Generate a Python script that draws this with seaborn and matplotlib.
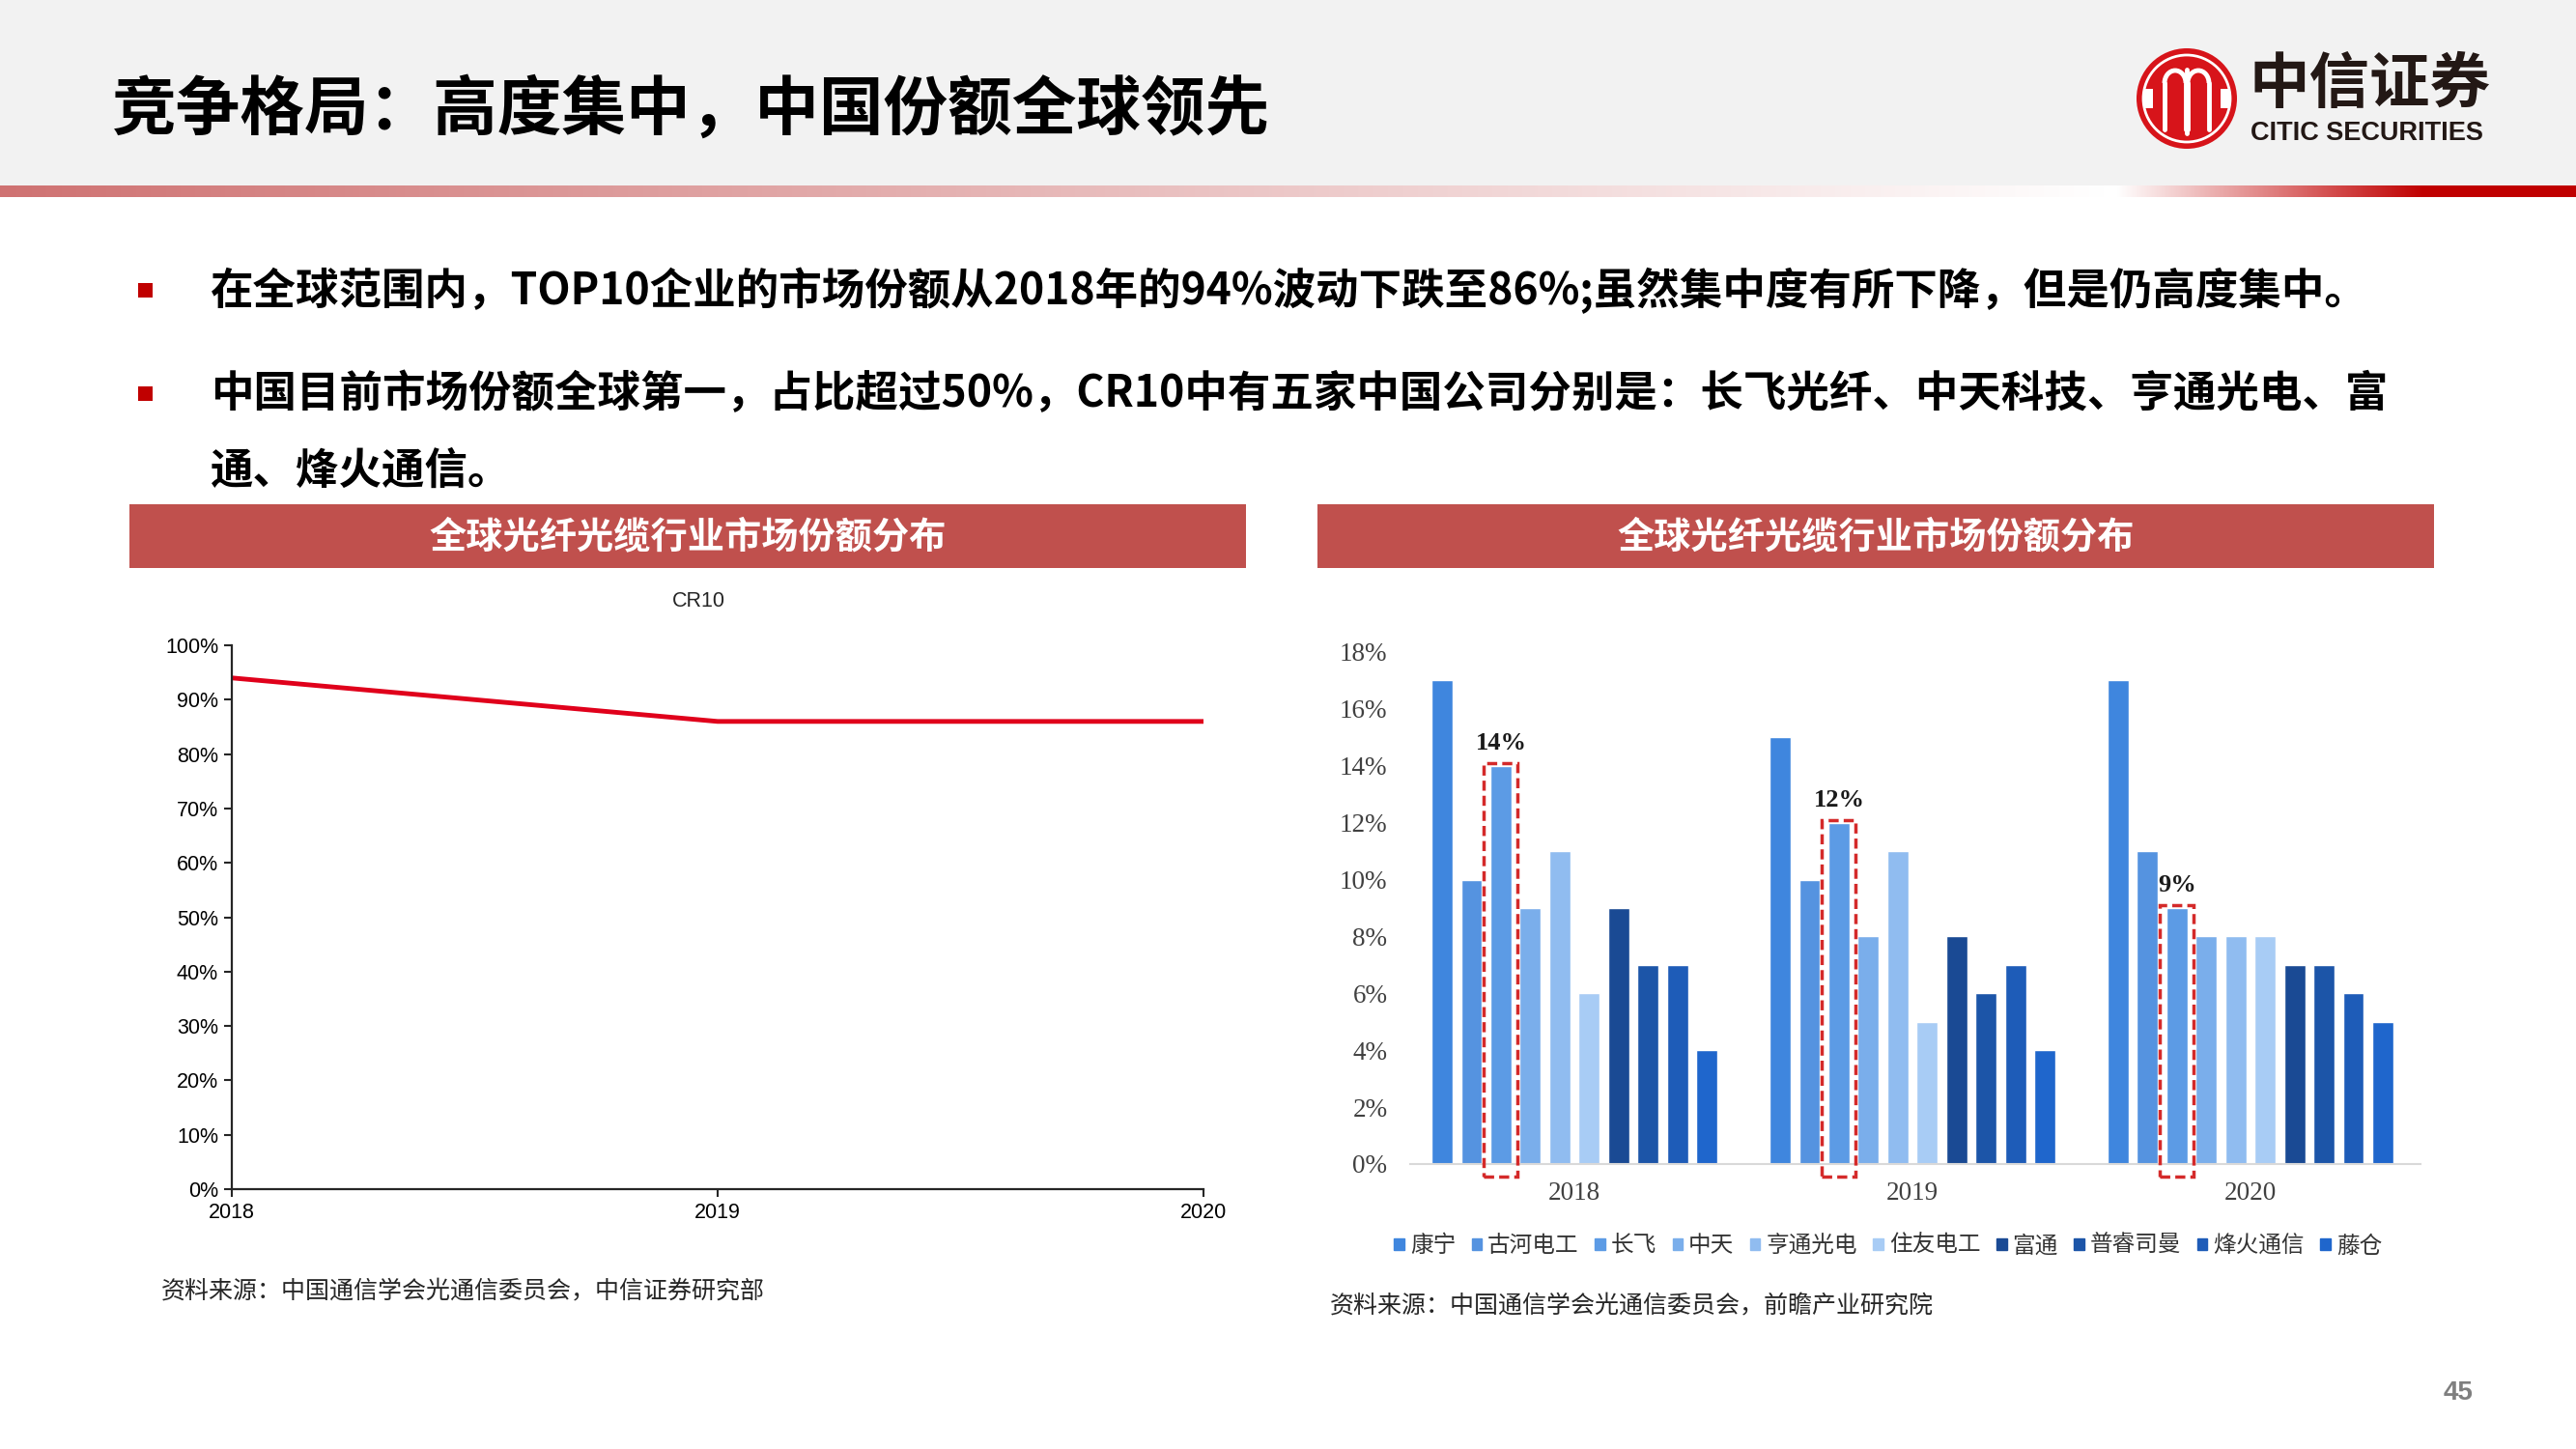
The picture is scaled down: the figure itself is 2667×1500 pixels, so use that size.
import numpy as np
import pandas as pd
import seaborn as sns
import matplotlib.pyplot as plt
from matplotlib.patches import Rectangle, Circle, Arc
from matplotlib.ticker import FuncFormatter

# data
years = [2018, 2019, 2020]
cr10 = [94, 86, 86]

companies = ['康宁', '古河电工', '长飞', '中天', '亨通光电', '住友电工', '富通', '普睿司曼', '烽火通信', '藤仓']
share_2018 = [17, 10, 14, 9, 11, 6, 9, 7, 7, 4]
share_2019 = [15, 10, 12, 8, 11, 5, 8, 6, 7, 4]
share_2020 = [17, 11, 9, 8, 8, 8, 7, 7, 6, 5]
bar_colors = ['#3F86DE', '#5593E0', '#5C9BE5', '#7AAEEB', '#90BCF0', '#A8CCF5',
              '#1A4A94', '#1C55A8', '#1E5CB8', '#1F66CC']
highlight = '长飞'

title = '竞争格局：高度集中，中国份额全球领先'
bullet_lines = [
    '在全球范围内，TOP10企业的市场份额从2018年的94%波动下跌至86%;虽然集中度有所下降，但是仍高度集中。',
    '中国目前市场份额全球第一，占比超过50%，CR10中有五家中国公司分别是：长飞光纤、中天科技、亨通光电、富',
    '通、烽火通信。',
]
panel_title = '全球光纤光缆行业市场份额分布'
source_left = '资料来源：中国通信学会光通信委员会，中信证券研究部'
source_right = '资料来源：中国通信学会光通信委员会，前瞻产业研究院'

sns.set_theme(style='ticks')
plt.rcParams['font.family'] = ['Noto Sans CJK SC', 'DejaVu Sans']

W, H = 2667, 1500
fig = plt.figure(figsize=(26.67, 15), dpi=100)
fig.patch.set_facecolor('white')

# full-page layer in pixel coordinates for the slide decoration
bg = fig.add_axes([0, 0, 1, 1], zorder=0)
bg.axis('off')
bg.add_patch(Rectangle((0, 0), W, 192, color='#F2F2F2', lw=0))

t = np.linspace(0, 1, 600)[:, None]
c0 = np.array([207, 114, 114]) / 255
left_grad = (c0 + (1 - c0) * t)[None, :, :]
bg.imshow(left_grad, extent=[0, 2180, 204, 192], aspect='auto', interpolation='bilinear')
c1 = np.array([192, 0, 0]) / 255
right_grad = (1 + (c1 - 1) * t)[None, :, :]
bg.imshow(right_grad, extent=[2192, 2510, 204, 192], aspect='auto', interpolation='bilinear')
bg.add_patch(Rectangle((2510, 192), W - 2510, 12, color='#C00000', lw=0))

# logo
bg.add_patch(Circle((2264, 102), 52, color='#D7141A', lw=0))
bg.add_patch(Circle((2264, 102), 45, fill=False, ec='white', lw=2))
for cx in (2252, 2276):
    bg.add_patch(Arc((cx, 86), 22, 26, theta1=180, theta2=360, ec='white', lw=3.5))
    bg.plot([cx - 11, cx - 11], [86, 134], color='white', lw=3.5)
    bg.plot([cx + 11, cx + 11], [86, 134], color='white', lw=3.5)
bg.plot([2264, 2264], [72, 138], color='white', lw=3.5)
for sx in (2224, 2304):
    bg.add_patch(Rectangle((sx - 5, 92), 10, 20, color='white', lw=0))
bg.text(2328, 88, '中信证券', fontsize=45, fontweight='bold', color='#231815', va='center', ha='left')
bg.text(2330, 138, 'CITIC SECURITIES', fontsize=19.5, fontweight='bold', color='#231815',
        va='center', ha='left', family=['Liberation Sans', 'DejaVu Sans'])

bg.text(116, 114, title, fontsize=48, fontweight='bold', color='black', va='center', ha='left')

for y, line in zip([301, 408, 488], bullet_lines):
    if line != bullet_lines[2]:
        bg.add_patch(Rectangle((143, y - 8), 15, 15, color='#C00000', lw=0))
    bg.text(218, y, line, fontsize=32, fontweight='bold', color='black', va='center', ha='left')

for x0 in (134, 1364):
    bg.add_patch(Rectangle((x0, 522), 1156, 66, color='#C0504D', lw=0))
    bg.text(x0 + 578, 556, panel_title, fontsize=27.5, fontweight='bold', color='white',
            va='center', ha='center')

bg.text(167, 1336, source_left, fontsize=18, color='#262626', va='center', ha='left')
bg.text(1377, 1352, source_right, fontsize=18, color='#262626', va='center', ha='left')
bg.text(2545, 1442, '45', fontsize=20, fontweight='bold', color='#7F7F7F', va='center', ha='center',
        family=['Liberation Sans', 'DejaVu Sans'])
bg.set_xlim(0, W)
bg.set_ylim(H, 0)

# left chart: CR10 line
ax1 = fig.add_axes([240 / W, 1 - 1231 / H, (1246 - 240) / W, (1231 - 668) / H], zorder=2)
ax1.patch.set_alpha(0)
sns.lineplot(x=years, y=cr10, color='#E0001B', lw=3.5, ax=ax1)
ax1.set_xlim(2018, 2020)
ax1.set_ylim(0, 100)
ax1.set_xticks(years)
ax1.set_yticks(range(0, 101, 10))
ax1.yaxis.set_major_formatter(FuncFormatter(lambda v, p: f'{v:.0f}%'))
for s in ('top', 'right'):
    ax1.spines[s].set_visible(False)
for s in ('left', 'bottom'):
    ax1.spines[s].set_color('#262626')
    ax1.spines[s].set_linewidth(1.6)
ax1.tick_params(length=6, width=1.5, color='#262626', labelsize=15.5, labelcolor='black', pad=4)
for lab in ax1.get_xticklabels() + ax1.get_yticklabels():
    lab.set_family(['Liberation Sans', 'DejaVu Sans'])
ax1.set_xlabel('')
ax1.set_ylabel('')
ax1.text(0.48, 1 + 46 / 563, 'CR10', transform=ax1.transAxes, ha='center', va='center',
         fontsize=15.5, family=['Liberation Sans', 'DejaVu Sans'])

# right chart: company shares by year
rows = []
for yr, vals in zip(years, [share_2018, share_2019, share_2020]):
    for comp, v in zip(companies, vals):
        rows.append({'year': str(yr), 'company': comp, 'share': v})
df = pd.DataFrame(rows)

ax2 = fig.add_axes([1460 / W, 1 - 1205 / H, (2506 - 1460) / W, (1205 - 675) / H], zorder=2)
ax2.patch.set_alpha(0)
sns.barplot(data=df, x='year', y='share', hue='company', hue_order=companies,
            palette=bar_colors, saturation=1, width=0.87, gap=0.28, legend=False, ax=ax2)
ax2.set_xlim(-0.486, 2.503)
ax2.set_ylim(0, 18)
ax2.set_yticks(range(0, 19, 2))
ax2.yaxis.set_major_formatter(FuncFormatter(lambda v, p: f'{v:.0f}%'))
for s in ('top', 'right', 'left'):
    ax2.spines[s].set_visible(False)
ax2.spines['bottom'].set_color('#D9D9D9')
ax2.spines['bottom'].set_linewidth(1.5)
ax2.tick_params(axis='both', length=0, labelsize=19.5, labelcolor='#404040')
ax2.tick_params(axis='y', pad=17)
ax2.tick_params(axis='x', pad=13)
for lab in ax2.get_xticklabels() + ax2.get_yticklabels():
    lab.set_family(['Liberation Serif', 'DejaVu Serif'])
ax2.set_xlabel('')
ax2.set_ylabel('')

idx = companies.index(highlight)
hl_vals = [share_2018[idx], share_2019[idx], share_2020[idx]]
for bar, val in zip(ax2.containers[idx], hl_vals):
    x0, w = bar.get_x(), bar.get_width()
    pad = 0.3 * w
    ax2.add_patch(Rectangle((x0 - pad, -0.45), w + 2 * pad, val + 0.55, fill=False,
                            ec='#D42A2A', lw=2.5, ls=(0, (3, 1.5)), clip_on=False, zorder=5))
    ax2.text(x0 + w / 2, val + 0.8, f'{val}%', ha='center', va='center', fontsize=19,
             fontweight='bold', color='#1a1a1a', family=['Liberation Serif', 'DejaVu Serif'])

handles = [Rectangle((0, 0), 1, 1, color=c) for c in bar_colors]
ax2.legend(handles, companies, ncol=10, loc='center', bbox_to_anchor=(0.473, -0.16),
           frameon=False, fontsize=17, handlelength=0.45, handleheight=0.45,
           handletextpad=0.25, columnspacing=0.7, labelcolor='#333333')

fig.savefig('out.png', dpi=100)
